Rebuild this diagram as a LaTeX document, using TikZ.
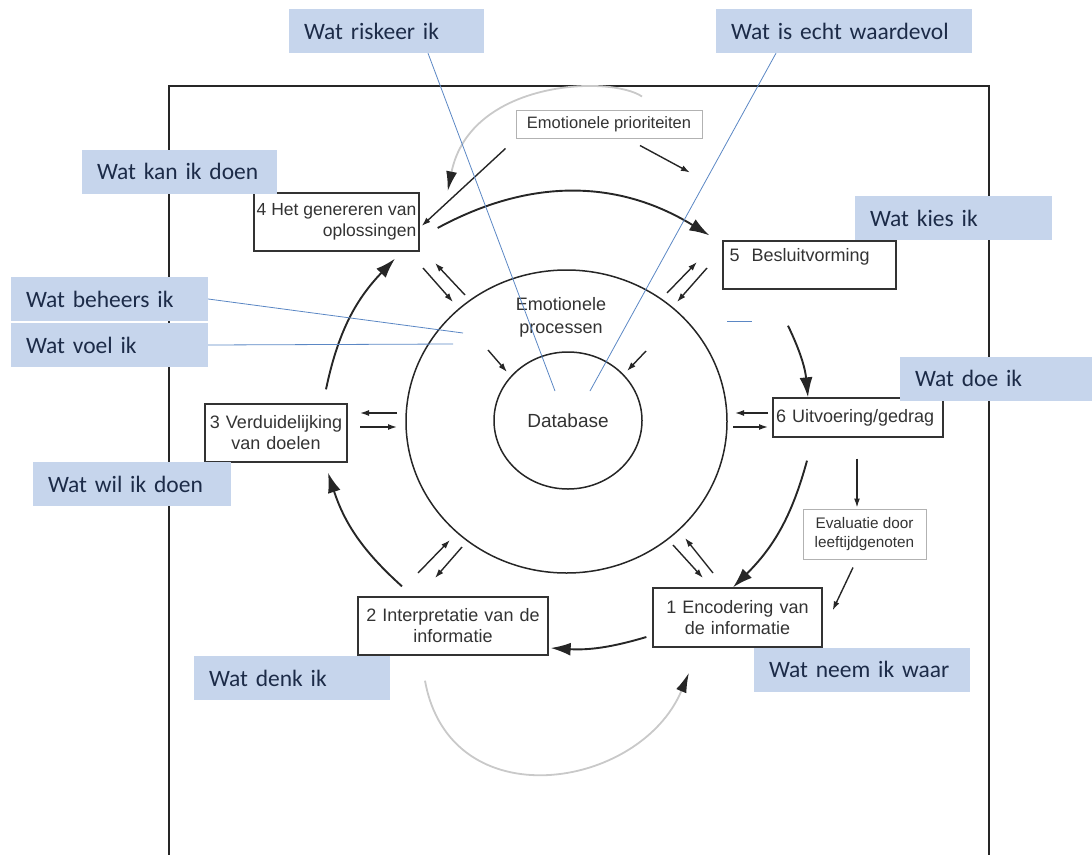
\documentclass[tikz,border=0pt]{standalone}
\usepackage{fontspec}
\setmainfont{Liberation Sans}
\newfontfamily\tagfont{Carlito}
\usetikzlibrary{arrows.meta, calc, shapes.geometric}
\definecolor{tagblue}{HTML}{C6D5EC}
\definecolor{tagtext}{HTML}{1C2B48}
\definecolor{leader}{HTML}{5B87C4}
\definecolor{inkgray}{HTML}{333333}
\definecolor{fadegray}{HTML}{C9C9C9}

\begin{document}
\begin{tikzpicture}[x=1pt, y=-1pt,
tag/.style={rectangle, fill=tagblue, text=tagtext, minimum height=44pt, text width=#1, inner xsep=15pt, inner ysep=0pt, align=left, font=\tagfont\fontsize{23.5}{26}\selectfont},
stage/.style={rectangle, draw=inkgray, line width=1.3pt, text=inkgray, inner sep=1pt, font=\fontsize{18}{21}\selectfont},
side/.style={rectangle, draw=black!30, line width=1pt, text=inkgray, inner sep=2pt, align=center},
loopline/.style={line width=1.9pt, draw=black!85, -{Latex[length=20pt, width=13pt]}},
small/.style={line width=1.4pt, draw=black!85, -{Latex[length=9pt, width=6pt]}},
greyarc/.style={line width=1.8pt, draw=fadegray, -{Latex[length=20pt, width=11pt, color=black!85]}},
leaderline/.style={draw=leader, line width=0.8pt}
]
\useasboundingbox (0,0) rectangle (1092,854);

% frame
\draw[line width=1.6pt, draw=black!85] (169,860) -- (169,86) -- (989,86) -- (989,860);

% rings
\node[ellipse, draw=black!85, line width=1.5pt, minimum width=321pt, minimum height=303pt, inner sep=0pt] (ring) at (566.5,421.5) {};
\node[ellipse, draw=black!85, line width=1.5pt, minimum width=148pt, minimum height=137pt, inner sep=0pt, text=inkgray, font=\fontsize{19}{22}\selectfont] (db) at (568,420.5) {Database};
\node[text=inkgray, align=center, font=\fontsize{18}{23}\selectfont] (emo) at (561,317) {Emotionele\\processen};

% stages
\node[stage, minimum width=165pt, minimum height=58pt, align=right, font=\fontsize{17.5}{21}\selectfont] (b4) at (336.5,222) {4 Het genereren van\\oplossingen};
\node[stage, minimum width=173pt, minimum height=48pt, text width=160pt, align=left] (b5) at (809.5,265) {5\hspace{6pt} Besluitvorming\\~};
\node[stage, minimum width=142pt, minimum height=58pt, text width=140pt, align=center] (b3) at (276,433) {3 Verduidelijking\\van doelen};
\node[stage, minimum width=170pt, minimum height=39pt, text width=164pt, align=left] (b6) at (858,417.5) {6 Uitvoering/gedrag};
\node[stage, minimum width=190pt, minimum height=58pt, text width=188pt, align=center] (b2) at (453,626) {2 Interpretatie van de\\informatie};
\node[stage, minimum width=169pt, minimum height=59pt, text width=167pt, align=center] (b1) at (737.5,617.5) {1 Encodering van\\de informatie};
\node[side, minimum width=123pt, minimum height=50pt, font=\fontsize{15.3}{19}\selectfont] (peer) at (864.5,534) {Evaluatie door\\leeftijdgenoten};
\node[side, minimum width=186pt, minimum height=28pt, font=\fontsize{16.5}{18}\selectfont] (prio) at (609,124) {Emotionele prioriteiten};

% main cycle
\draw[loopline] ($(b2.north)+(-51,-10)$) to[bend left=15] ($(b3.south)+(52,10)$);
\draw[loopline] ($(b3.north)+(50,-14)$) to[bend left=16] ($(b4.south)+(58.5,7)$);
\draw[loopline] ($(b4.east)+(18,6)$) to[bend left=30] ($(b5.north west)+(-13,-5)$);
\draw[loopline] ($(b5.south)+(-21.5,36)$) to[bend left=10] ($(b6.north)+(-50,0)$);
\draw[loopline] ($(b6.south)+(-51,23)$) to[bend left=15] ($(b1.north)+(-4.5,0)$);
\draw[loopline] ($(b1.west)+(-6,19.5)$) to[bend left=10] ($(b2.east)+(2,22)$);

% grey loops
\draw[greyarc] ($(prio.north)+(33,-13)$) .. controls (610,75) and (470,80) .. ($(b4.north east)+(28,-1)$);
\draw[greyarc] ($(b2.south)+(-28,25)$) .. controls (450,820) and (640,790) .. ($(b1.south)+(-48.5,25)$);

% side arrows
\draw[small] ($(prio.south west)+(-10,10)$) -- ($(b4.east)+(2,4)$);
\draw[small] ($(prio.south)+(31,7)$) -- ($(prio.south)+(81,34)$);
\draw[small] ($(b6.south)+(-1,21)$) -- ($(peer.north)+(-7.5,-1)$);
\draw[small] ($(peer.south)+(-11.5,8)$) -- ($(b1.north east)+(10,23)$);

% ring <-> stages
\coordinate (nw1) at (423,268); \coordinate (nw2) at (453,302); \coordinate (nw3) at (465,295); \coordinate (nw4) at (435,263);
\coordinate (ne1) at (667,293); \coordinate (ne2) at (697,262); \coordinate (ne3) at (707,268); \coordinate (ne4) at (677,302);
\coordinate (w1) at (397,413); \coordinate (w2) at (360,413); \coordinate (w3) at (360,427); \coordinate (w4) at (397,427);
\coordinate (e1) at (768,413); \coordinate (e2) at (735,413); \coordinate (e3) at (733,427); \coordinate (e4) at (768,427);
\coordinate (sw1) at (418,573); \coordinate (sw2) at (450,540); \coordinate (sw3) at (462,547); \coordinate (sw4) at (435,578);
\coordinate (se1) at (673,545); \coordinate (se2) at (703,578); \coordinate (se3) at (713,573); \coordinate (se4) at (685,538);
\coordinate (in1) at (488,350); \coordinate (in2) at (507,372); \coordinate (in3) at (646,351); \coordinate (in4) at (627,371);
\foreach \p in {nw,ne,w,e,sw,se,in} {
  \draw[small] (\p1) -- (\p2);
  \draw[small] (\p3) -- (\p4);
}

% questions
\node[tag=165pt] (risk) at (386.5,31) {Wat riskeer ik};
\node[tag=226pt] (value) at (844,31) {Wat is echt waardevol};
\node[tag=165pt] (can) at (179.5,171.5) {Wat kan ik doen};
\node[tag=167pt] (choose) at (953.5,218) {Wat kies ik};
\node[tag=167pt] (control) at (109.5,299) {Wat beheers ik};
\node[tag=167pt] (feel) at (109.5,345) {Wat voel ik};
\node[tag=162pt] (act) at (996,378.5) {Wat doe ik};
\node[tag=168pt] (want) at (132,484) {Wat wil ik doen};
\node[tag=166pt] (think) at (292,678) {Wat denk ik};
\node[tag=186pt] (see) at (862,669.5) {Wat neem ik waar};

% leaders
\draw[leaderline] ($(risk.south)+(41.5,0)$) -- ($(db.center)+(-13,-29.5)$);
\draw[leaderline] ($(value.south)+(-68,0)$) -- ($(db.center)+(22,-29.5)$);
\draw[leaderline] (control.east) -- ($(ring.center)+(-103.5,-88.5)$);
\draw[leaderline] (feel.east) -- ($(ring.center)+(-113.5,-77.5)$);
\draw[leaderline] ($(b5.south west)+(5,32)$) -- ++(25,0);

\end{tikzpicture}
\end{document}
